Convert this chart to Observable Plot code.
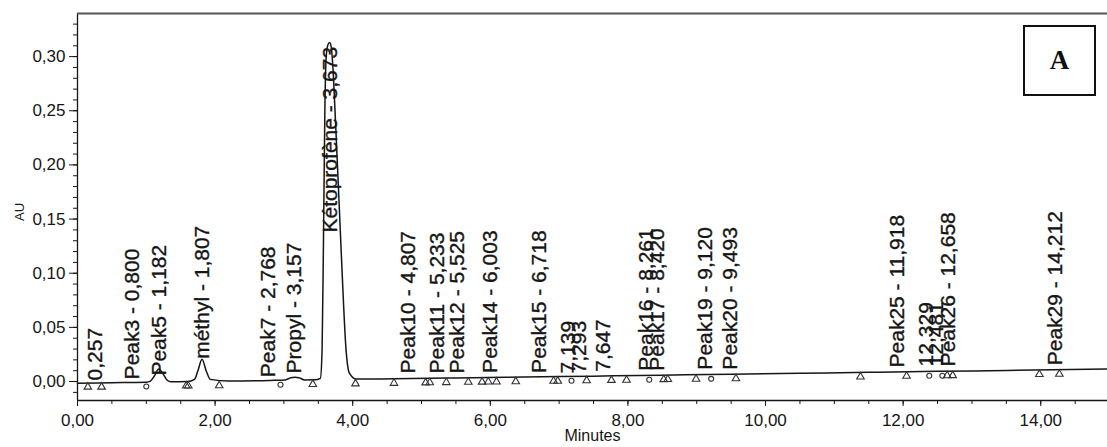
<!DOCTYPE html>
<html><head><meta charset="utf-8">
<script src="https://cdn.jsdelivr.net/npm/d3@7"></script>
<script src="https://cdn.jsdelivr.net/npm/@observablehq/plot@0.6"></script>
<style>
html,body{margin:0;padding:0;background:#fff;}
#wrap{position:relative;width:1107px;height:447px;overflow:hidden;}
#boxA{position:absolute;left:1023px;top:25px;width:69px;height:67px;border:2px solid #111;
  font-family:"Liberation Serif","Times New Roman",serif;font-weight:bold;font-size:27px;color:#111;
  display:flex;align-items:center;justify-content:center;background:#fff;}
</style></head><body>
<div id="wrap"><div id="chart"></div><div id="boxA">A</div></div>
<script>
// Chromatogram trace (minutes, AU)
const traceTime = [0, 0.5, 1.0, 1.06, 1.12, 1.18, 1.24, 1.30, 1.36, 1.6, 1.70, 1.75, 1.81, 1.87, 1.93, 2.2, 2.8, 3.02, 3.10, 3.16, 3.22, 3.30, 3.45, 3.53, 3.555, 3.575, 3.595, 3.615, 3.64, 3.665, 3.69, 3.71, 3.75, 3.80, 3.85, 3.90, 3.95, 4.05, 4.6, 5.5, 6.5, 7.5, 8.5, 9.5, 10.5, 11.5, 12.5, 13.5, 14.97];
const traceAU   = [-0.0015, -0.0011, -0.0006, 0.0004, 0.0055, 0.0115, 0.0075, 0.0015, -0.0003, 0.0, 0.002, 0.010, 0.0205, 0.010, 0.002, 0.0004, 0.001, 0.0015, 0.0035, 0.004, 0.0035, 0.0015, 0.0016, 0.003, 0.03, 0.13, 0.25, 0.300, 0.311, 0.313, 0.308, 0.292, 0.240, 0.168, 0.095, 0.032, 0.008, 0.0023, 0.0025, 0.0033, 0.0042, 0.005, 0.0059, 0.0068, 0.0076, 0.0085, 0.0094, 0.0102, 0.0115];

// Peak start/end markers
const triangleTime = [0.15, 0.35, 1.58, 1.61, 2.06, 3.42, 4.04, 4.60, 5.06, 5.12, 5.36, 5.68, 5.88, 5.97, 6.09, 6.37, 6.92, 6.98, 7.40, 7.76, 7.98, 8.52, 8.58, 8.99, 9.57, 11.38, 12.05, 12.64, 12.72, 13.98, 14.27];
const triangleAU   = [-0.005, -0.005, -0.004, -0.004, -0.0037, -0.0025, -0.002, -0.0015, -0.0011, -0.001, -0.0008, -0.0005, -0.0004, -0.0003, -0.0002, 0.0, 0.0004, 0.0005, 0.0009, 0.0012, 0.0014, 0.0019, 0.002, 0.0023, 0.0028, 0.0044, 0.005, 0.0055, 0.0056, 0.0067, 0.0069];
const circleTime = [1.00, 2.95, 7.18, 8.31, 9.21, 12.38, 12.57];
const circleAU   = [-0.0046, -0.003, 0.0007, 0.0017, 0.0025, 0.0053, 0.0054];

// Peak labels
const peakLabels = ["0,257", "Peak3 - 0,800", "Peak5 - 1,182", "méthyl - 1,807", "Peak7 - 2,768", "Propyl - 3,157", "Kétoprofène - 3,673", "Peak10 - 4,807", "Peak11 - 5,233", "Peak12 - 5,525", "Peak14 - 6,003", "Peak15 - 6,718", "7,139", "7,293", "7,647", "Peak16 - 8,261", "Peak17 - 8,420", "Peak19 - 9,120", "Peak20 - 9,493", "Peak25 - 11,918", "12,329", "12,481", "Peak26 - 12,658", "Peak29 - 14,212"];
const peakTime = [0.257, 0.800, 1.182, 1.807, 2.768, 3.157, 3.673, 4.807, 5.233, 5.525, 6.003, 6.718, 7.139, 7.293, 7.647, 8.261, 8.420, 9.120, 9.493, 11.918, 12.329, 12.481, 12.658, 14.212];
const labelAU = [0.001, 0.002, 0.0055, 0.021, 0.004, 0.0075, 0.1376, 0.0075, 0.0075, 0.0075, 0.008, 0.008, 0.0075, 0.0075, 0.009, 0.010, 0.010, 0.011, 0.011, 0.013, 0.014, 0.014, 0.014, 0.015];

// Axes
const xMajorTicks = [0, 2, 4, 6, 8, 10, 12, 14];
const xMinorTicks = d3.range(0, 15, 0.5);
const yMajorTicks = [0, 0.05, 0.10, 0.15, 0.20, 0.25, 0.30];
const yMinorTicks = d3.range(-1, 34).map(i => i / 100);
const xDomain = [0, 14.97];
const yDomain = [-0.0175, 0.3398];
const fmt = d => d.toFixed(2).replace(".", ",");

const trace = traceTime.map((t, i) => ({t, au: traceAU[i]}));
const tris = triangleTime.map((t, i) => ({t, au: triangleAU[i]}));
const circs = circleTime.map((t, i) => ({t, au: circleAU[i]}));
const labels = peakLabels.map((label, i) => ({label, t: peakTime[i], au: labelAU[i]}));

const ink = "#161616";
const chart = Plot.plot({
  width: 1107, height: 447,
  marginLeft: 77, marginRight: 0, marginTop: 13, marginBottom: 47,
  x: {domain: xDomain},
  y: {domain: yDomain},
  style: {fontFamily: "'Liberation Sans', Arial, sans-serif", color: ink, background: "#fff", overflow: "visible"},
  marks: [
    Plot.axisX({ticks: xMinorTicks, tickSize: 4, tickFormat: () => "", label: null, stroke: ink}),
    Plot.axisX({ticks: xMajorTicks, tickSize: 6, tickPadding: 7, tickFormat: fmt, fontSize: 17, label: null, stroke: ink}),
    Plot.axisY({ticks: yMinorTicks, tickSize: 4, tickFormat: () => "", label: null, stroke: ink}),
    Plot.axisY({ticks: yMajorTicks, tickSize: 8, tickPadding: 4, tickFormat: fmt, fontSize: 17, label: null, stroke: ink}),
    Plot.ruleX([0], {stroke: ink, strokeWidth: 1.3}),
    Plot.ruleY([yDomain[0]], {stroke: ink, strokeWidth: 1.6}),
    Plot.ruleY([yDomain[1]], {stroke: "#555", strokeWidth: 2.2}),
    Plot.line(trace, {x: "t", y: "au", curve: "monotone-x", stroke: ink, strokeWidth: 1.5}),
    Plot.dot(tris, {x: "t", y: "au", symbol: "triangle", r: 2.8, stroke: "#333", strokeWidth: 1.1, fill: "none"}),
    Plot.dot(circs, {x: "t", y: "au", symbol: "circle", r: 2.5, stroke: "#333", strokeWidth: 1.1, fill: "none"}),
    Plot.text(labels, {x: "t", y: "au", text: "label", rotate: -90, textAnchor: "start", fontSize: 21, fill: ink, stroke: ink, strokeWidth: 0.35}),
    Plot.text(["AU"], {frameAnchor: "left", dx: -58, dy: 14, rotate: -90, fontSize: 13, fill: ink}),
    Plot.text(["Minutes"], {frameAnchor: "bottom", dy: 40, fontSize: 16, fill: ink})
  ]
});
document.getElementById("chart").appendChild(chart);
</script>
</body></html>
